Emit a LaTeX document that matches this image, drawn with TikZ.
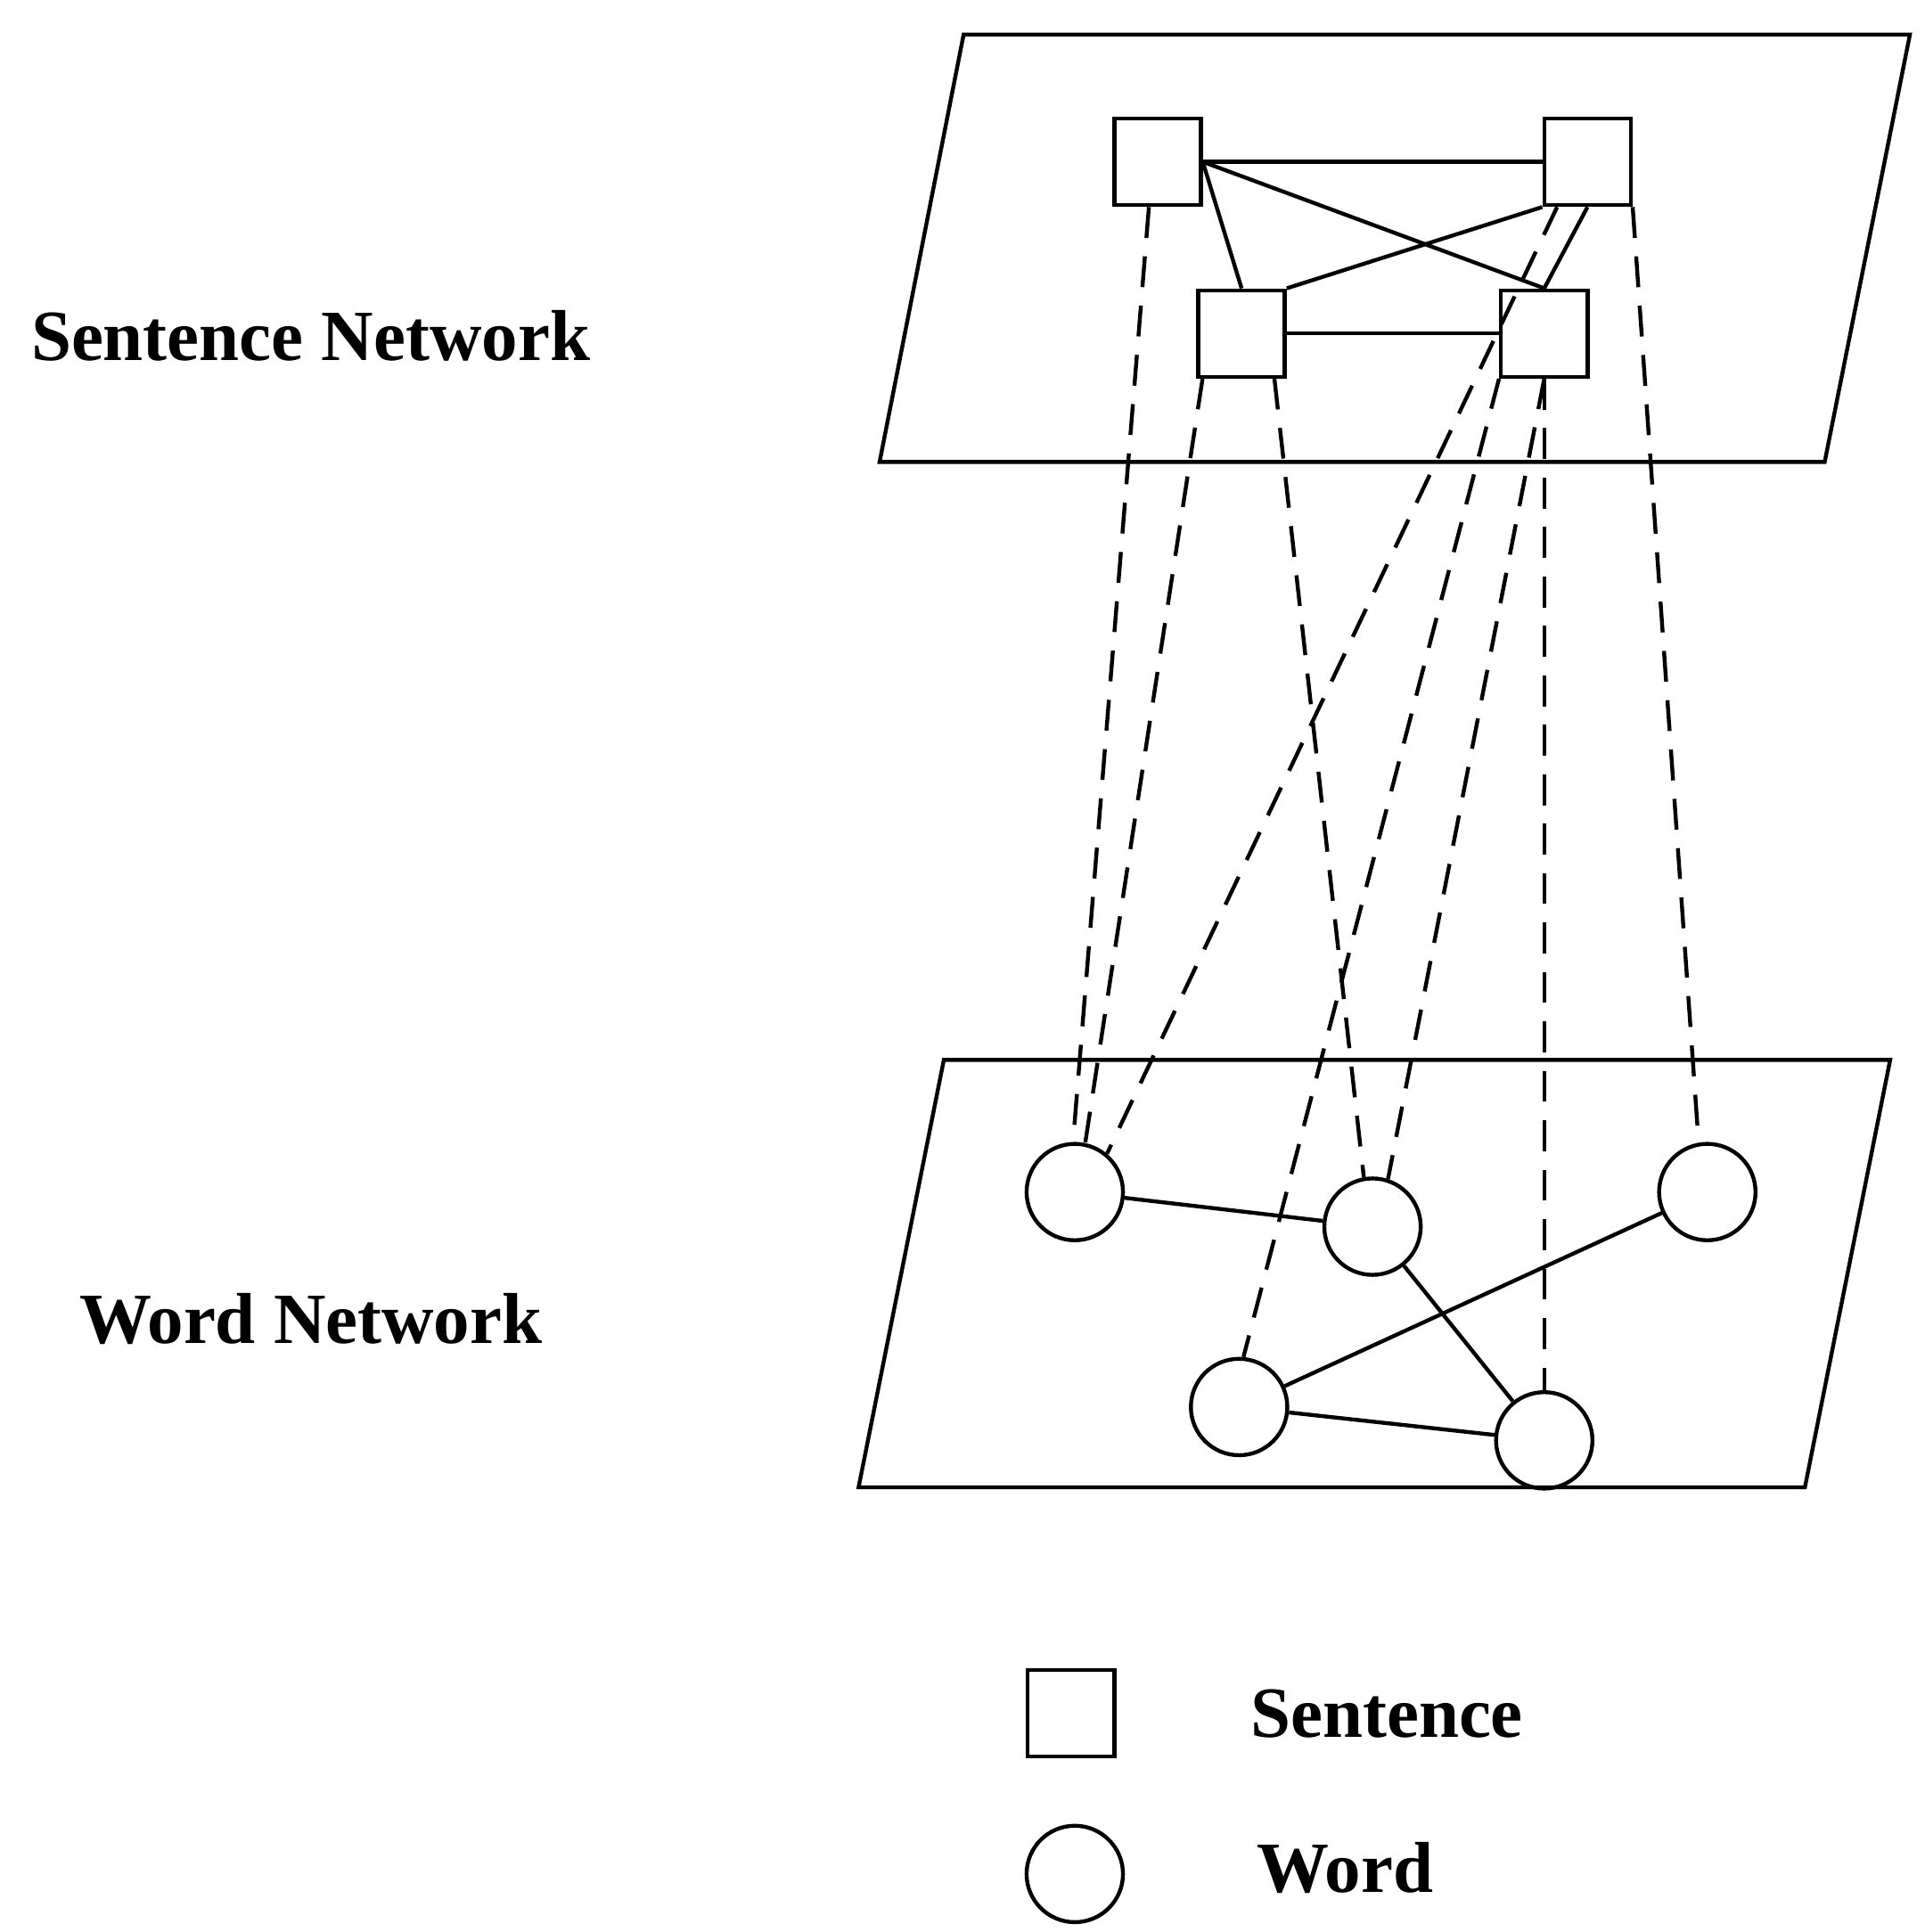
\documentclass[tikz,border=0pt]{standalone}
\usepackage{fontspec}
\setmainfont{Liberation Serif}
\usetikzlibrary{positioning}

\begin{document}
\begin{tikzpicture}[
    x=0.01cm, y=-0.01cm,
    % Define sentence node style
    sent style/.style={
        draw, % Draw border
        rectangle, % Square shape
        minimum size=0.7cm, % Side length
        inner sep=0pt
      },
    % Define word node style
    word style/.style={
        draw, % Draw border
        circle, % Circle shape
        minimum size=0.78cm, % Diameter
        inner sep=0pt
      },
    % Define label style
    label style/.style={
        font=\fontsize{16.6}{20}\selectfont\bfseries
      },
    % Dashed link style
    link/.style={dashed, dash pattern=on 0.25cm off 0.15cm},
    line width=0.9pt % Line thickness
  ]
  \useasboundingbox (0,0) rectangle (1558,1564);

  % Planes
  \draw (780,28) -- (1546,28) -- (1477,374) -- (712,374) -- cycle;
  \draw (764,858) -- (1530,858) -- (1461,1204) -- (695,1204) -- cycle;

  % Define sentence nodes
  \node[sent style] (S1) at (937,131) {};
  \node[sent style] (S2) at (1285,131) {};
  \node[sent style] (S3) at (1005,270) {};
  \node[sent style] (S4) at (1250,270) {};

  % Define word nodes
  \node[word style] (W1) at (870,965) {};
  \node[word style] (W2) at (1111,993) {};
  \node[word style] (W3) at (1382,965) {};
  \node[word style] (W4) at (1003,1139) {};
  \node[word style] (W5) at (1250,1166) {};

  % Sentence network edges
  \draw (S1.east) -- (S2.west);
  \draw (S1.east) -- (S3.north);
  \draw (S1.east) -- (S4.north);
  \draw (S2.south west) -- (S3.north east);
  \draw (S2.south) -- (S4.north);
  \draw (S3.east) -- (S4.west);

  % Word network edges
  \draw (W1) -- (W2);
  \draw (W2) -- (W5);
  \draw (W3) -- (W4);
  \draw (W4) -- (W5);

  % Links between sentences and words
  \draw[link] ([xshift=-0.07cm]S1.south) -- (W1.92);
  \draw[link] ([xshift=0.05cm]S3.south west) -- (W1.78);
  \draw[link] ([xshift=-0.1cm]S3.south east) -- (W2.100);
  \draw[link] ([xshift=0.12cm]S2.south west) -- (W1.50);
  \draw[link] (S4.south west) -- (W4.85);
  \draw[link] (S4.south) -- (W2.72);
  \draw[link] (S4.south) -- (W5.north);
  \draw[link] (S2.south east) -- (W3.100);

  % Labels
  \node[label style, anchor=west] (SN) at (12,272) {Sentence Network};
  \node[label style, anchor=west] (WN) at (51,1068) {Word Network};

  % Legend
  \node[sent style] (LS) at (867,1387) {};
  \node[word style] (LW) at (870,1517) {};
  \node[label style, anchor=west] (LST) at (999,1387) {Sentence};
  \node[label style, anchor=west] (LWT) at (1004,1512) {Word};
\end{tikzpicture}
\end{document}
